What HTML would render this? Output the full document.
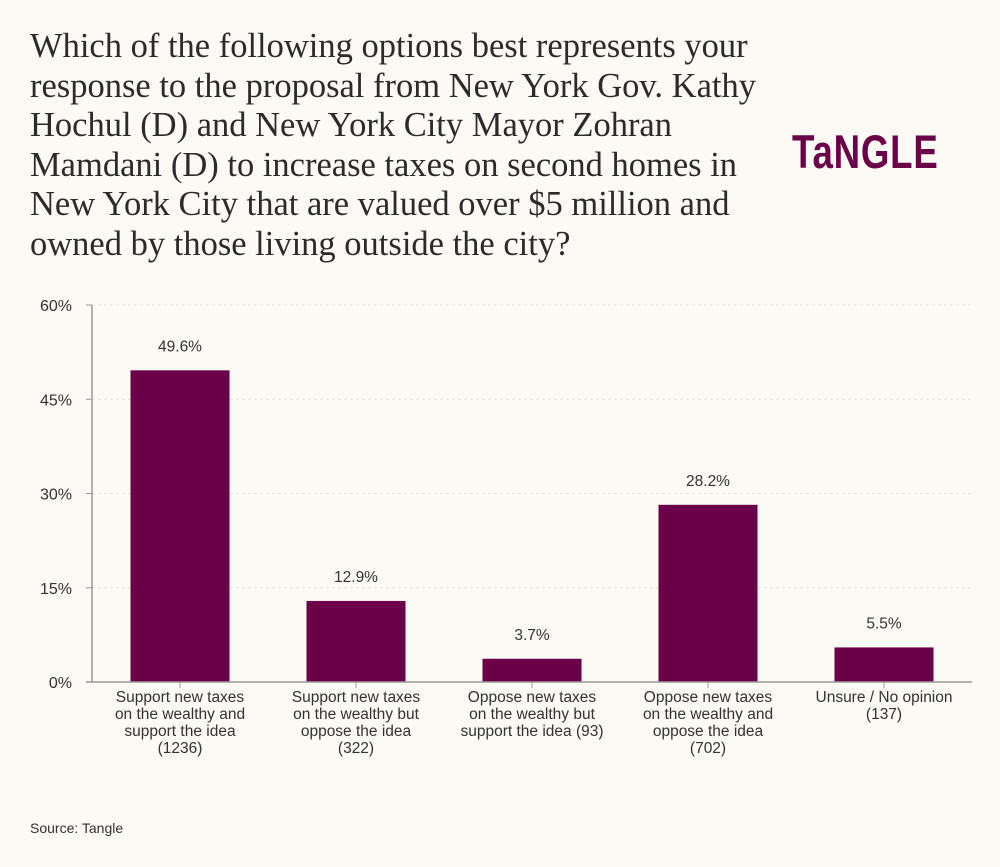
<!DOCTYPE html>
<html><head><meta charset="utf-8"><style>
body{margin:0;width:1000px;height:867px;background:#fbfaf4;font-family:"Liberation Sans",sans-serif;overflow:hidden}
#title{position:absolute;left:30px;top:27px;white-space:nowrap;font-family:"Liberation Serif",serif;font-size:34.5px;line-height:39.5px;color:#2b2b2b}
#logo{position:absolute;left:792px;top:124px;font-family:"Liberation Sans",sans-serif;font-weight:bold;font-size:47px;color:#6b0049;letter-spacing:1px;transform:scaleX(0.78);transform-origin:left}
#source{position:absolute;left:30px;top:820px;font-size:14px;color:#333}
</style></head><body>
<div id="title">Which of the following options best represents your<br>response to the proposal from New York Gov. Kathy<br>Hochul (D) and New York City Mayor Zohran<br>Mamdani (D) to increase taxes on second homes in<br>New York City that are valued over $5 million and<br>owned by those living outside the city?</div>
<div id="logo">TaNGLE</div>
<svg id="chart" width="1000" height="867" style="position:absolute;left:0;top:0"></svg>
<div id="source">Source: Tangle</div>
<script>
const categories=[["Support new taxes","on the wealthy and","support the idea","(1236)"],["Support new taxes","on the wealthy but","oppose the idea","(322)"],["Oppose new taxes","on the wealthy but","support the idea (93)"],["Oppose new taxes","on the wealthy and","oppose the idea","(702)"],["Unsure / No opinion","(137)"]];
const values=[49.6,12.9,3.7,28.2,5.5];
const ticks=[0,15,30,45,60];
const svg=document.getElementById('chart');
const NS='http://www.w3.org/2000/svg';
const x0=92,x1=972,yTop=305,yBot=682,ymax=60;
const band=(x1-x0)/values.length;
const y=v=>yBot-(v/ymax)*(yBot-yTop);
const xc=i=>x0+band*(i+0.5);
function mk(t,a){const e=document.createElementNS(NS,t);for(const k in a)e.setAttribute(k,a[k]);svg.appendChild(e);return e;}
ticks.forEach(t=>{
 if(t>0){const g=mk('line',{x1:x0,x2:x1,y1:y(t),y2:y(t),stroke:'#e6e4dc','stroke-dasharray':'3,3'});
 
 }
 const tk=mk('line',{x1:x0-6,x2:x0,y1:y(t),y2:y(t),stroke:'#999'});
 
 
 const l=mk('text',{x:72,y:y(t)+6,'text-anchor':'end','font-size':16,fill:'#333'});
 l.textContent=t+'%';
 
 
});
const ax=mk('line',{x1:x0,x2:x0,y1:yTop,y2:yBot,stroke:'#999','stroke-width':1.5});


values.forEach((v,i)=>{
 const bw=99;
 const r=mk('rect',{x:xc(i)-bw/2,y:y(v),width:bw,height:yBot-y(v),fill:'#6b0049'});
 
 
 const t=mk('text',{x:xc(i),y:y(v)-19,'text-anchor':'middle','font-size':15.5,fill:'#333'});
 t.textContent=v.toFixed(1)+'%';
 
 
 const tk=mk('line',{x1:xc(i),x2:xc(i),y1:yBot,y2:yBot+6,stroke:'#999'});
 
 
 categories[i].forEach((ln,j)=>{
  const c=mk('text',{x:xc(i),y:yBot+20+j*17,'text-anchor':'middle','font-size':15.5,fill:'#333'});
  c.textContent=ln;
  
  
 });
});
const xa=mk('line',{x1:x0-6,x2:x1,y1:yBot,y2:yBot,stroke:'#999','stroke-width':1.5});


</script>
</body></html>
